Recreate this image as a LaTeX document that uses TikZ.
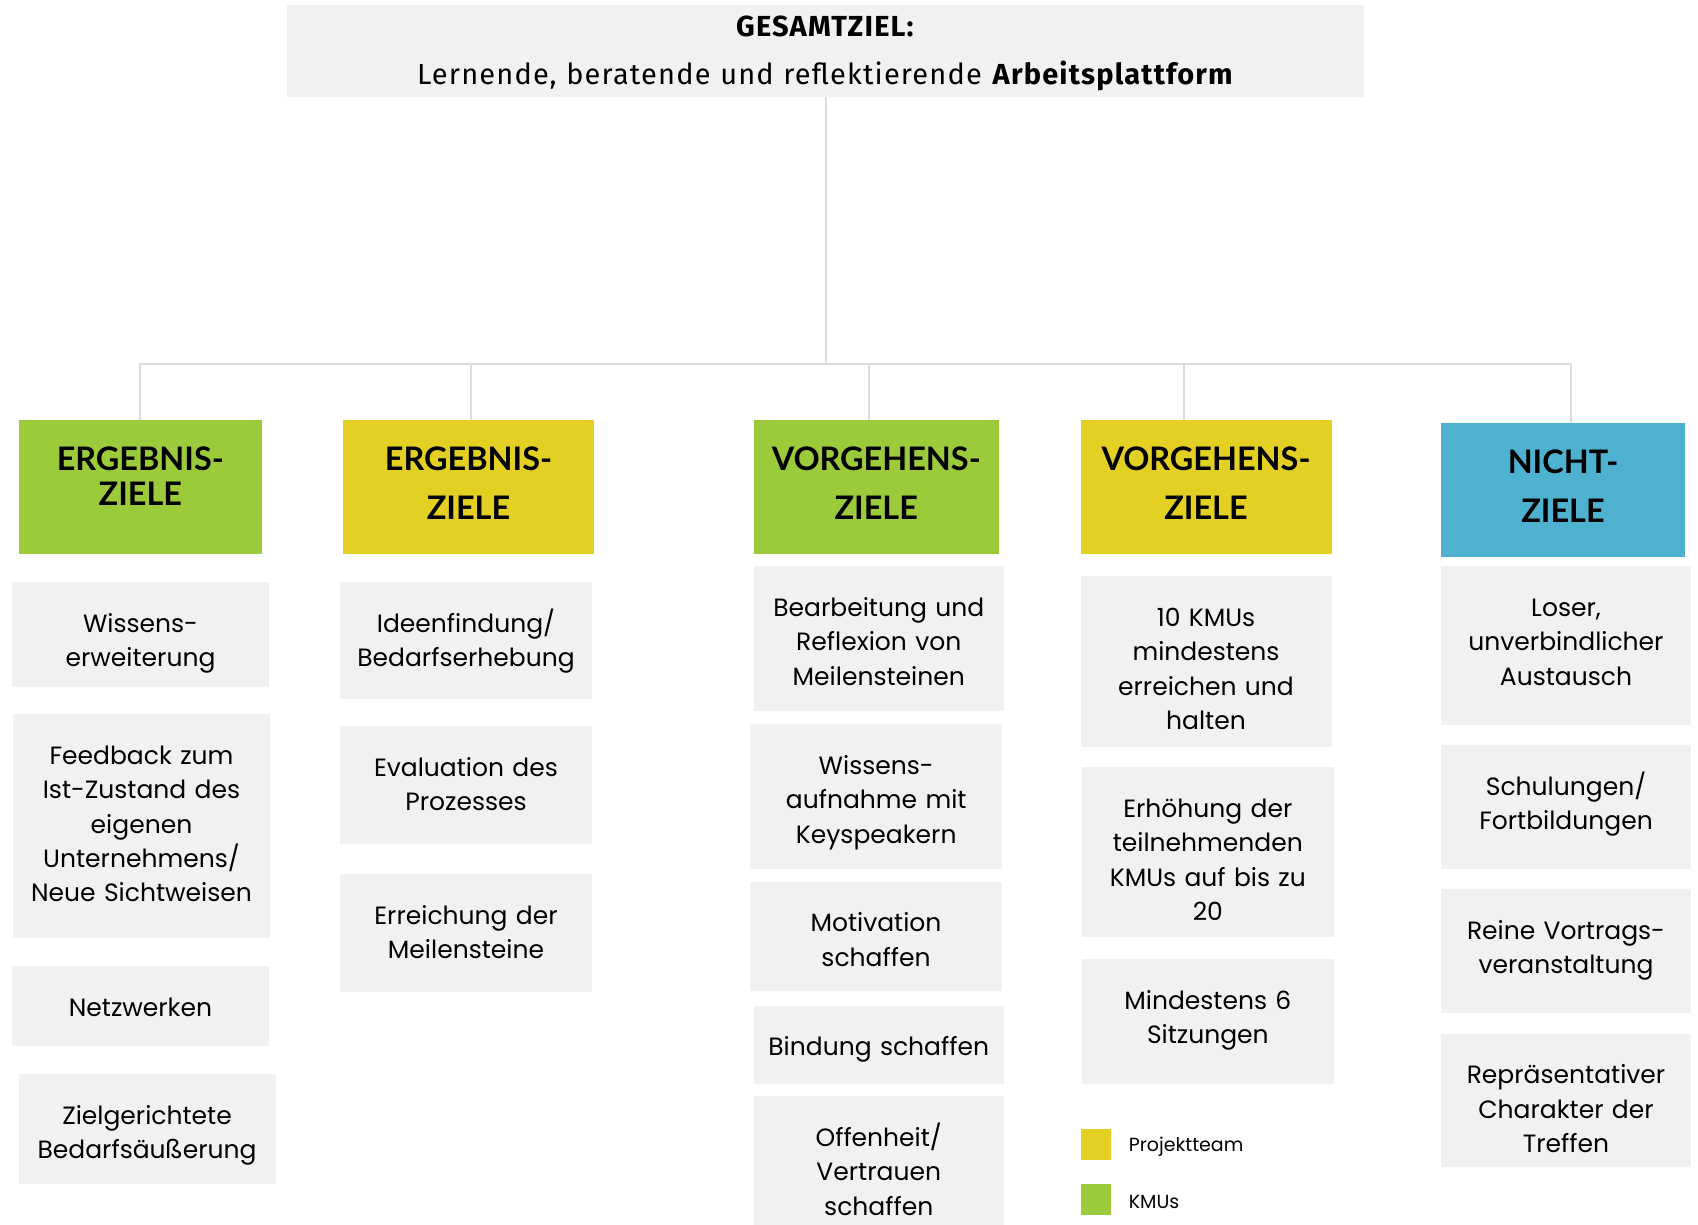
\documentclass[tikz,border=0pt]{standalone}
\usepackage{fontspec}
\setmainfont{Poppins}
\newfontfamily\headfont{Lato}
\newfontfamily\titlefont[LetterSpace=4]{Fira Sans}
\usetikzlibrary{fit}

\definecolor{kmugreen}{HTML}{9BCB3B}
\definecolor{teamyellow}{HTML}{E4D022}
\definecolor{nonblue}{HTML}{4EB1CF}
\definecolor{boxgray}{HTML}{F1F1F1}
\definecolor{linegray}{HTML}{DCDCDC}

\begin{document}
\begin{tikzpicture}[
x=0.5pt, y=-0.5pt,
every node/.style={inner sep=0pt, align=center},
goal/.style={fill=boxgray},
% texts hang from the top edge of their box: base = first baseline
toptext/.style={anchor=base, text width=#1},
goaltext/.style={toptext=120pt, yshift=-25.3pt, font=\fontsize{12.5}{17.2}\selectfont},
headtext/.style={toptext=120pt, yshift=-25.5pt, font=\headfont\bfseries\fontsize{16.2}{24.2}\selectfont},
legend/.style={font=\fontsize{9.5}{12}\selectfont, anchor=west, yshift=-1pt},
link/.style={draw=linegray, line width=1pt},
]
\useasboundingbox (0,0) rectangle (1698,1225);

% overall goal
\node[goal, fit={(287,5) (1364,97)}] (gesamt) {};
\node[toptext=500pt, yshift=-15.8pt, font=\titlefont\fontsize{14.5}{24}\selectfont] (gesamt-t) at (gesamt.north)
  {\textbf{GESAMTZIEL:}\\Lernende, beratende und reflektierende \textbf{Arbeitsplattform}};

% the five kinds of goals
\node[fill=kmugreen, fit={(18.6,420) (262,554)}] (erg1) {};
\node[fill=teamyellow, fit={(343,420) (594,554)}] (erg2) {};
\node[fill=kmugreen, fit={(753.5,420) (999,554)}] (vor1) {};
\node[fill=teamyellow, fit={(1080.5,420) (1331.5,554)}] (vor2) {};
\node[fill=nonblue, fit={(1441,423) (1685,557)}] (nicht) {};
\node[headtext, font=\headfont\bfseries\fontsize{16.2}{17.5}\selectfont] (erg1-t) at (erg1.north) {ERGEBNIS-\\ZIELE};
\node[headtext] (erg2-t) at (erg2.north) {ERGEBNIS-\\ZIELE};
\node[headtext] (vor1-t) at (vor1.north) {VORGEHENS-\\ZIELE};
\node[headtext] (vor2-t) at (vor2.north) {VORGEHENS-\\ZIELE};
\node[headtext] (nicht-t) at (nicht.north) {NICHT-\\ZIELE};

\coordinate (busy) at (0,364);
\coordinate (bus) at (gesamt.south |- busy);
\draw[link] (gesamt.south) -- (bus);
\draw[link] (bus) -| (erg1.north);
\draw[link] (bus) -| ([xshift=1pt]erg2.north);
\draw[link] (bus) -| ([xshift=-3.75pt]vor1.north);
\draw[link] (bus) -| ([xshift=-11pt]vor2.north);
\draw[link] (bus) -| ([xshift=4pt]nicht.north);

% Ergebnisziele (KMUs)
\node[goal, fit={(12,582) (269,687)}] (wissen) {};
\node[goal, fit={(13,714) (270,938)}] (feedback) {};
\node[goal, fit={(12,966) (269,1046)}] (netz) {};
\node[goal, fit={(18.6,1074) (275.5,1184)}] (bedarf) {};
\node[goaltext] (wissen-t) at (wissen.north) {Wissens-\\erweiterung};
\node[goaltext] (feedback-t) at (feedback.north) {Feedback zum\\Ist-Zustand des\\eigenen\\Unternehmens/\\Neue Sichtweisen};
\node[goaltext] (netz-t) at (netz.north) {Netzwerken};
\node[goaltext] (bedarf-t) at (bedarf.north) {Zielgerichtete\\Bedarfsäußerung};

% Ergebnisziele (Projektteam)
\node[goal, fit={(340,582) (592,699)}] (ideen) {};
\node[goal, fit={(340,726) (592,844)}] (eval) {};
\node[goal, fit={(340,874) (592,992)}] (meilen) {};
\node[goaltext] (ideen-t) at (ideen.north) {Ideenfindung/\\Bedarfserhebung};
\node[goaltext] (eval-t) at (eval.north) {Evaluation des\\Prozesses};
\node[goaltext] (meilen-t) at (meilen.north) {Erreichung der\\Meilensteine};

% Vorgehensziele (KMUs)
\node[goal, fit={(753.5,566) (1004,711)}] (bearb) {};
\node[goal, fit={(750.4,724) (1002,869)}] (keynote) {};
\node[goal, fit={(750,881.5) (1002,991)}] (motiv) {};
\node[goal, fit={(753.5,1005.7) (1004,1084.3)}] (bindung) {};
\node[goal, fit={(753.5,1096) (1004,1225)}] (offen) {};
\node[goaltext] (bearb-t) at (bearb.north) {Bearbeitung und\\Reflexion von\\Meilensteinen};
\node[goaltext] (keynote-t) at (keynote.north) {Wissens-\\aufnahme mit\\Keyspeakern};
\node[goaltext] (motiv-t) at (motiv.north) {Motivation\\schaffen};
\node[goaltext] (bindung-t) at (bindung.north) {Bindung schaffen};
\node[goaltext] (offen-t) at (offen.north) {Offenheit/\\Vertrauen\\schaffen};

% Vorgehensziele (Projektteam)
\node[goal, fit={(1080.5,576) (1331.5,746.7)}] (zehn) {};
\node[goal, fit={(1081.7,767) (1334,937.3)}] (zwanzig) {};
\node[goal, fit={(1081.7,959) (1334,1083.7)}] (sitzung) {};
\node[goaltext] (zehn-t) at (zehn.north) {10 KMUs\\mindestens\\erreichen und\\halten};
\node[goaltext] (zwanzig-t) at (zwanzig.north) {Erhöhung der\\teilnehmenden\\KMUs auf bis zu\\20};
\node[goaltext] (sitzung-t) at (sitzung.north) {Mindestens 6\\Sitzungen};

% legend
\node[fill=teamyellow, fit={(1080.5,1129) (1111,1160)}] (legteam) {};
\node[fill=kmugreen, fit={(1080.5,1184) (1111,1215)}] (legkmu) {};
\node[legend] (legteam-t) at ([xshift=8.5pt]legteam.east) {Projektteam};
\node[legend] (legkmu-t) at ([xshift=8.5pt]legkmu.east) {KMUs};

% Nichtziele
\node[goal, fit={(1441,566) (1691,725)}] (loser) {};
\node[goal, fit={(1441,745) (1691,869)}] (schulung) {};
\node[goal, fit={(1441,889) (1691,1013)}] (vortrag) {};
\node[goal, fit={(1441,1033.7) (1691,1167)}] (treffen) {};
\node[goaltext] (loser-t) at (loser.north) {Loser,\\unverbindlicher\\Austausch};
\node[goaltext] (schulung-t) at (schulung.north) {Schulungen/\\Fortbildungen};
\node[goaltext] (vortrag-t) at (vortrag.north) {Reine Vortrags-\\veranstaltung};
\node[goaltext] (treffen-t) at (treffen.north) {Repräsentativer\\Charakter der\\Treffen};
\end{tikzpicture}
\end{document}
